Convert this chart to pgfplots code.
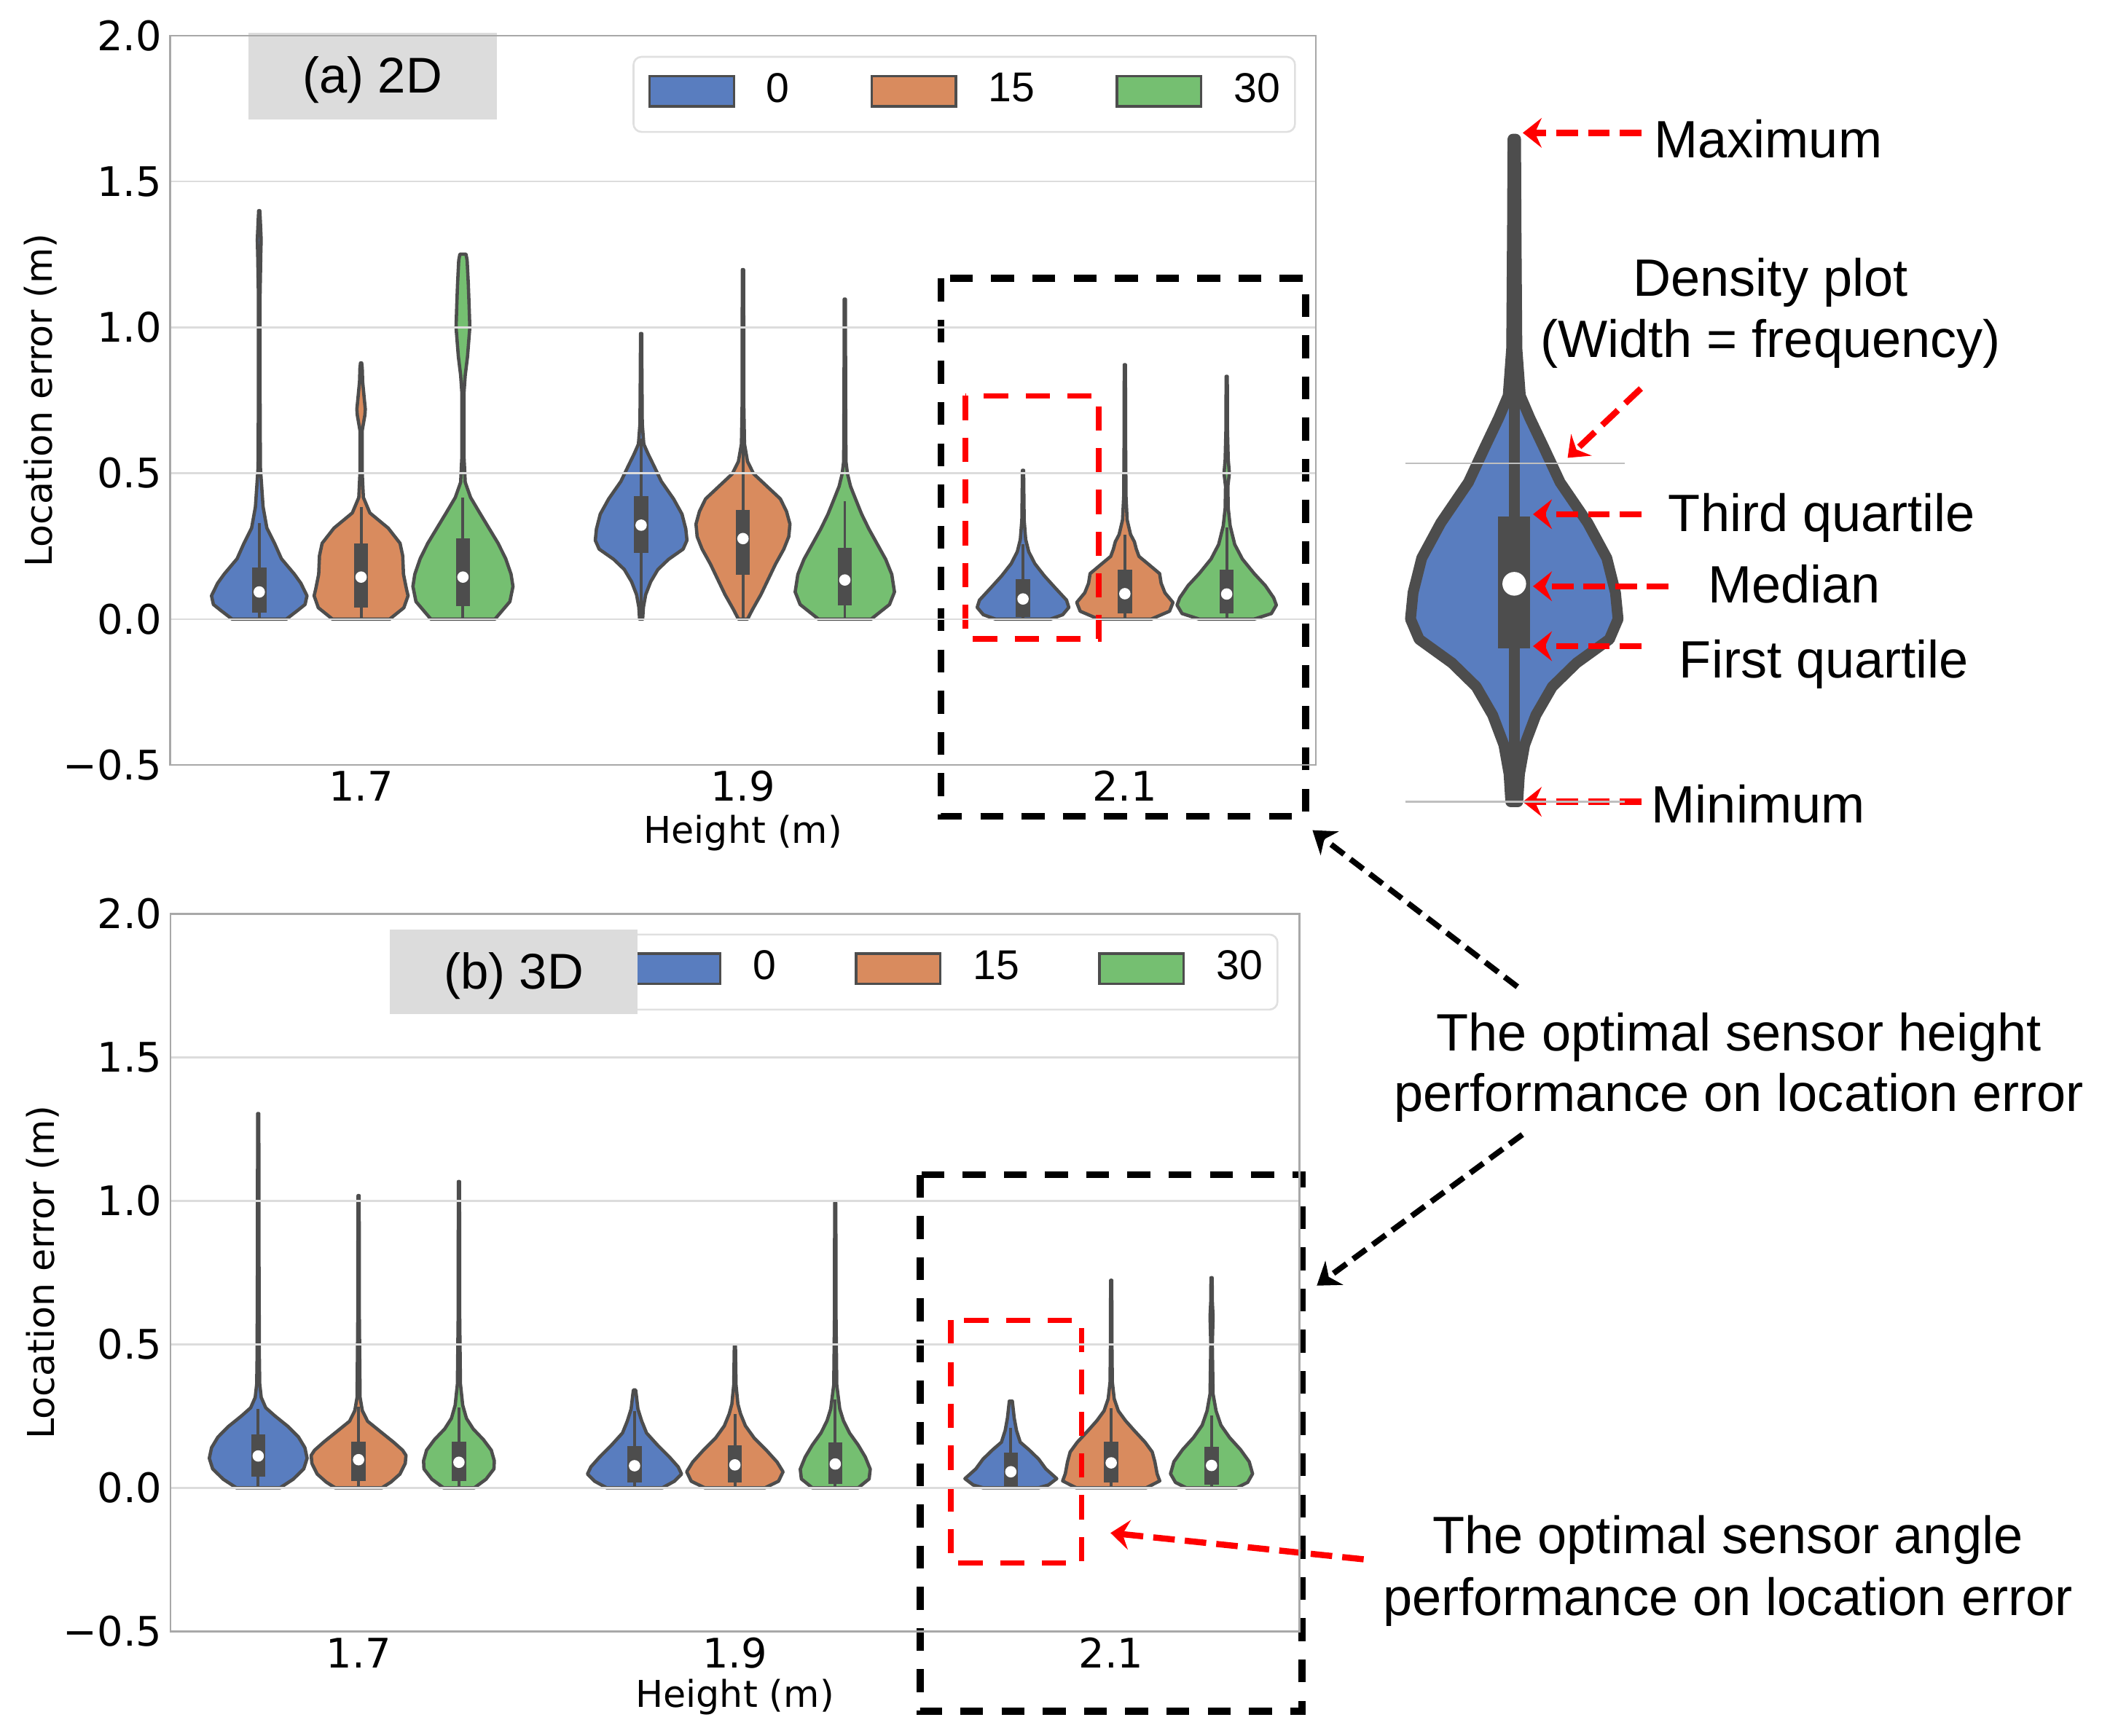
\documentclass[border=0pt]{standalone}
\usepackage{pgfplots}
\pgfplotsset{compat=1.18}
\usepackage{pgfplotstable}
\usepgfplotslibrary{fillbetween}
\usetikzlibrary{arrows.meta}
\usepackage{fontspec}
\setmainfont{Liberation Sans}
\newfontfamily\djv{DejaVu Sans}

\definecolor{vblue}{HTML}{597DBF}
\definecolor{vorange}{HTML}{D98B5E}
\definecolor{vgreen}{HTML}{75BF71}
\definecolor{vgray}{HTML}{4D4D4D}
\definecolor{framec}{HTML}{A8A8A8}
\definecolor{gridc}{HTML}{DCDCDC}
\definecolor{labbox}{HTML}{DCDCDC}
\definecolor{legc}{HTML}{E0E0E0}

\newcommand{\tickfont}{\djv\fontsize{8.6}{10}\selectfont}
\newcommand{\labfont}{\djv\fontsize{7.8}{9}\selectfont}
\newcommand{\legfont}{\fontsize{8.8}{10}\selectfont}
\newcommand{\boxfont}{\fontsize{10.6}{12}\selectfont}
\newcommand{\annfont}{\fontsize{11.1}{13}\selectfont}

% violin outline from a (y, half width) table: #1 table, #2 centre, #3 colour, #4 id
\newcommand{\violin}[4]{%
  \addplot[draw=none, forget plot, name path=R#4] table[x expr=#2+\thisrow{w}, y=y] {#1};
  \addplot[draw=none, forget plot, name path=L#4] table[x expr=#2-\thisrow{w}, y=y] {#1};
  \addplot[fill=#3, draw=vgray, line width=0.7pt, line join=round, forget plot] fill between[of=R#4 and L#4, reverse=true];
}
% inner box: #1 centre, #2 q1, #3 q3, #4 median, #5 whisker low, #6 whisker high
\newcommand{\vinner}[6]{%
  \addplot[vgray, line width=0.6pt, forget plot] coordinates {(#1,#5) (#1,#6)};
  \addplot[vgray, line width=3pt, forget plot] coordinates {(#1,#2) (#1,#3)};
  \addplot[only marks, mark=*, mark size=1pt, white, forget plot] coordinates {(#1,#4)};
}

\pgfplotsset{
  violinaxis/.style={
    scale only axis,
    xmin=-0.5, xmax=2.5, ymin=-0.5, ymax=2.0,
    xtick={0,1,2}, xticklabels={1.7,1.9,2.1},
    ytick={-0.5,0,0.5,1,1.5,2}, yticklabels={−0.5,0.0,0.5,1.0,1.5,2.0},
    major tick length=0pt,
    ymajorgrids, grid style={draw=gridc, line width=0.4pt},
    axis line style={draw=framec, line width=0.4pt},
    xticklabel style={font=\tickfont, anchor=base, yshift=-0.27cm, inner sep=0pt},
    yticklabel style={font=\tickfont, anchor=east, inner sep=0pt, xshift=-0.055cm},
    xlabel={Height (m)}, ylabel={Location error (m)},
    legend columns=3, legend cell align=left,
    legend image code/.code={%
      \draw[##1, draw=vgray, line width=0.5pt, sharp corners] (0cm,-0.113cm) rectangle (0.626cm,0.113cm);
      \path (0.861cm,0cm) (0cm,-0.176cm);},
    legend style={anchor=north east, draw=legc, line width=0.4pt, rounded corners=0.06cm,
      fill=white, inner xsep=0.11cm, inner ysep=0.12cm, font=\legfont,
      nodes={inner sep=0pt}, column sep=0pt,
      /tikz/every even column/.append style={column sep=0.6cm}},
  }
}

\begin{document}

% ---- (a) 2D ----
\pgfplotstableread{
y w
0 0.071
0.028 0.099
0.05 0.120
0.08 0.125
0.123 0.109
0.154 0.092
0.207 0.058
0.26 0.040
0.312 0.020
0.385 0.010
0.52 0.003
0.8 0.002
1.1 0.002
1.25 0.004
1.3 0.005
1.36 0.003
1.40 0.0015
}\tAa
\pgfplotstableread{
y w
0 0.075
0.039 0.112
0.08 0.123
0.102 0.119
0.154 0.111
0.217 0.109
0.26 0.102
0.312 0.071
0.364 0.023
0.417 0.006
0.5 0.003
0.647 0.003
0.70 0.010
0.72 0.011
0.76 0.008
0.815 0.004
0.86 0.003
0.878 0.0015
}\tAb
\pgfplotstableread{
y w
0 0.084
0.06 0.123
0.112 0.131
0.154 0.126
0.207 0.112
0.26 0.092
0.312 0.068
0.364 0.044
0.417 0.020
0.469 0.006
0.55 0.003
0.70 0.003
0.78 0.003
0.836 0.006
0.9 0.012
1.0 0.018
1.08 0.016
1.151 0.014
1.23 0.011
1.251 0.008
}\tAc
\pgfplotstableread{
y w
0 0.004
0.041 0.006
0.084 0.012
0.128 0.025
0.17 0.044
0.205 0.072
0.24 0.110
0.27 0.120
0.309 0.117
0.36 0.107
0.412 0.085
0.472 0.053
0.524 0.034
0.567 0.018
0.60 0.007
0.67 0.003
0.85 0.002
0.979 0.0015
}\tAd
\pgfplotstableread{
y w
0 0.012
0.033 0.025
0.084 0.047
0.136 0.066
0.188 0.085
0.24 0.107
0.283 0.120
0.326 0.123
0.369 0.114
0.412 0.098
0.455 0.063
0.498 0.028
0.54 0.012
0.60 0.004
0.75 0.002
1.0 0.002
1.198 0.0015
}\tAe
\pgfplotstableread{
y w
0 0.069
0.05 0.117
0.093 0.130
0.153 0.123
0.205 0.107
0.257 0.085
0.309 0.063
0.36 0.044
0.412 0.028
0.455 0.015
0.498 0.007
0.54 0.003
0.8 0.002
1.097 0.0015
}\tAf
\pgfplotstableread{
y w
0 0.072
0.015 0.104
0.04 0.120
0.065 0.114
0.106 0.085
0.148 0.056
0.19 0.031
0.231 0.015
0.273 0.007
0.34 0.003
0.45 0.002
0.51 0.0015
}\tAg
\pgfplotstableread{
y w
0 0.069
0.027 0.117
0.057 0.126
0.09 0.105
0.123 0.095
0.156 0.091
0.19 0.060
0.215 0.037
0.24 0.030
0.265 0.025
0.29 0.015
0.34 0.006
0.42 0.003
0.6 0.002
0.872 0.0015
}\tAh
\pgfplotstableread{
y w
0 0.072
0.019 0.117
0.048 0.130
0.073 0.123
0.115 0.101
0.156 0.072
0.206 0.041
0.256 0.021
0.32 0.009
0.38 0.004
0.455 0.003
0.50 0.007
0.547 0.004
0.65 0.002
0.832 0.0015
}\tAi

% ---- (b) 3D ----
\pgfplotstableread{
y w
0 0.058
0.03 0.093
0.066 0.121
0.103 0.130
0.14 0.124
0.177 0.107
0.214 0.079
0.251 0.044
0.279 0.020
0.315 0.008
0.362 0.004
0.454 0.003
0.8 0.002
1.304 0.0015
}\tBa
\pgfplotstableread{
y w
0 0.062
0.02 0.086
0.048 0.110
0.085 0.124
0.113 0.126
0.131 0.117
0.159 0.093
0.196 0.058
0.232 0.024
0.269 0.010
0.315 0.004
0.6 0.002
1.018 0.0015
}\tBb
\pgfplotstableread{
y w
0 0.041
0.03 0.072
0.066 0.093
0.094 0.094
0.131 0.086
0.168 0.065
0.205 0.038
0.242 0.020
0.288 0.010
0.362 0.004
0.6 0.002
1.067 0.0015
}\tBc
\pgfplotstableread{
y w
0 0.074
0.023 0.106
0.048 0.125
0.073 0.116
0.107 0.093
0.149 0.061
0.191 0.032
0.233 0.019
0.275 0.009
0.32 0.005
0.341 0.003
}\tBd
\pgfplotstableread{
y w
0 0.080
0.023 0.116
0.056 0.128
0.09 0.112
0.132 0.083
0.174 0.051
0.216 0.028
0.258 0.015
0.292 0.008
0.359 0.003
0.494 0.0015
}\tBe
\pgfplotstableread{
y w
0 0.061
0.031 0.090
0.065 0.093
0.107 0.080
0.149 0.061
0.191 0.038
0.233 0.022
0.275 0.012
0.359 0.004
0.6 0.002
0.993 0.0015
}\tBf
\pgfplotstableread{
y w
0 0.074
0.01 0.100
0.032 0.122
0.066 0.093
0.1 0.074
0.133 0.048
0.159 0.025
0.2 0.015
0.243 0.009
0.302 0.004
}\tBg
\pgfplotstableread{
y w
0 0.093
0.024 0.129
0.049 0.122
0.091 0.116
0.125 0.109
0.159 0.090
0.2 0.061
0.234 0.038
0.268 0.019
0.31 0.008
0.369 0.003
0.5 0.002
0.723 0.0015
}\tBh
\pgfplotstableread{
y w
0 0.067
0.019 0.096
0.049 0.109
0.091 0.100
0.133 0.077
0.175 0.048
0.218 0.025
0.268 0.012
0.327 0.004
0.5 0.002
0.597 0.004
0.65 0.002
0.732 0.0015
}\tBi

\begin{tikzpicture}

% (a) 2D
\begin{axis}[violinaxis,
  at={(1.263cm,7.209cm)}, anchor=south west, width=8.504cm, height=5.414cm,
  xlabel style={font=\labfont, at={(axis description cs:0.5,-0.1069)}, anchor=base},
  ylabel style={font=\labfont, at={(axis description cs:-0.1031,0.5)}, anchor=base},
  legend style={at={(axis description cs:0.9827,0.9723)}},
]
\addlegendimage{fill=vblue}\addlegendentry{0}
\addlegendimage{fill=vorange}\addlegendentry{15}
\addlegendimage{fill=vgreen}\addlegendentry{30}
\violin{\tAa}{-0.2667}{vblue}{aa}
\violin{\tAb}{0}{vorange}{ab}
\violin{\tAc}{0.2667}{vgreen}{ac}
\violin{\tAd}{0.7333}{vblue}{ad}
\violin{\tAe}{1}{vorange}{ae}
\violin{\tAf}{1.2667}{vgreen}{af}
\violin{\tAg}{1.7333}{vblue}{ag}
\violin{\tAh}{2}{vorange}{ah}
\violin{\tAi}{2.2667}{vgreen}{ai}
\vinner{-0.2667}{0.023}{0.177}{0.093}{0}{0.33}
\vinner{0}{0.039}{0.26}{0.144}{0}{0.385}
\vinner{0.2667}{0.044}{0.278}{0.144}{0}{0.417}
\vinner{0.7333}{0.227}{0.421}{0.322}{0}{0.62}
\vinner{1}{0.153}{0.373}{0.276}{0}{0.6}
\vinner{1.2667}{0.046}{0.244}{0.134}{0}{0.403}
\vinner{1.7333}{0.007}{0.136}{0.069}{0}{0.256}
\vinner{2}{0.019}{0.169}{0.087}{0}{0.29}
\vinner{2.2667}{0.019}{0.169}{0.086}{0}{0.314}
\end{axis}

% (b) 3D
\begin{axis}[violinaxis,
  at={(1.265cm,0.777cm)}, anchor=south west, width=8.38cm, height=5.327cm,
  xlabel style={font=\labfont, at={(axis description cs:0.5,-0.1053)}, anchor=base},
  ylabel style={font=\labfont, at={(axis description cs:-0.1032,0.5)}, anchor=base},
  legend style={at={(axis description cs:0.9815,0.9724)},
    /tikz/every even column/.append style={column sep=0.585cm}},
]
\addlegendimage{fill=vblue}\addlegendentry{0}
\addlegendimage{fill=vorange}\addlegendentry{15}
\addlegendimage{fill=vgreen}\addlegendentry{30}
\violin{\tBa}{-0.2667}{vblue}{ba}
\violin{\tBb}{0}{vorange}{bb}
\violin{\tBc}{0.2667}{vgreen}{bc}
\violin{\tBd}{0.7333}{vblue}{bd}
\violin{\tBe}{1}{vorange}{be}
\violin{\tBf}{1.2667}{vgreen}{bf}
\violin{\tBg}{1.7333}{vblue}{bg}
\violin{\tBh}{2}{vorange}{bh}
\violin{\tBi}{2.2667}{vgreen}{bi}
\vinner{-0.2667}{0.039}{0.185}{0.111}{0}{0.274}
\vinner{0}{0.024}{0.161}{0.098}{0}{0.283}
\vinner{0.2667}{0.024}{0.161}{0.089}{0}{0.279}
\vinner{0.7333}{0.019}{0.145}{0.077}{0}{0.267}
\vinner{1}{0.019}{0.149}{0.080}{0}{0.258}
\vinner{1.2667}{0.014}{0.159}{0.083}{0}{0.309}
\vinner{1.7333}{0.003}{0.122}{0.056}{0}{0.209}
\vinner{2}{0.019}{0.160}{0.087}{0}{0.277}
\vinner{2.2667}{0.011}{0.143}{0.078}{0}{0.251}
\end{axis}

% enlarged example violin (2D, 1.9 m, 0 deg)
\begin{axis}[
  at={(10.43cm,6.936cm)}, anchor=south west, width=1.63cm, height=5.024cm,
  scale only axis, xmin=-0.1262, xmax=0.1277, ymin=0, ymax=1, clip=false,
  axis line style={draw=none}, xtick=\empty, ytick={0,0.5}, yticklabels={},
  major tick length=0pt, ymajorgrids, grid style={draw=gray!50, line width=0.4pt},
  axis on top,
]
\addplot[draw=none, forget plot, name path=Rc] table[x expr=\thisrow{w}, y=y] {\tAd};
\addplot[draw=none, forget plot, name path=Lc] table[x expr=-\thisrow{w}, y=y] {\tAd};
\addplot[fill=vblue, draw=vgray, line width=2.3pt, line join=round] fill between[of=Rc and Lc, reverse=true];
\addplot[vgray, line width=2.3pt] coordinates {(0,0) (0,0.62)};
\addplot[vgray, line width=6.8pt] coordinates {(0,0.227) (0,0.421)};
\addplot[only marks, mark=*, mark size=2.3pt, white] coordinates {(0,0.322)};
\end{axis}

% annotations, in units of the reference (1 unit = 0.01 cm, y downwards)
\begin{scope}[shift={(0,12.888cm)}, x=0.01cm, y=-0.01cm]
\tikzset{
  redarr/.style={red, line width=1.3pt, dash pattern=on 0.16cm off 0.075cm,
    -{Stealth[length=0.14cm, width=0.22cm, inset=0.05cm]}},
  blkarr/.style={black, line width=1.2pt, dash pattern=on 0.12cm off 0.06cm,
    -{Stealth[length=0.16cm, width=0.22cm, inset=0.05cm]}},
  ann/.style={inner sep=0pt, font=\annfont},
}
\fill[labbox] (184.5,24.2) rectangle (369,88.5);
\node[anchor=base, inner sep=0pt, font=\boxfont] at (276.6,68.9) {(a) 2D};
\fill[labbox] (289.7,690.6) rectangle (473.6,753.5);
\node[anchor=base, inner sep=0pt, font=\boxfont] at (381.6,734.7) {(b) 3D};

\draw[black, line width=1.5pt, dash pattern=on 0.17cm off 0.136cm] (698.9,206.9) rectangle (969.6,606.3);
\draw[black, line width=1.5pt, dash pattern=on 0.17cm off 0.136cm] (683.3,872.6) rectangle (967.2,1271.3);
\draw[red, line width=1.15pt, dash pattern=on 0.18cm off 0.13cm] (717,294) rectangle (816,474.5);
\draw[red, line width=1.15pt, dash pattern=on 0.18cm off 0.13cm] (706.1,980.7) rectangle (803.4,1161.1);

\draw[redarr] (1219,98.7) -- (1131,98.7);
\draw[redarr] (1218.7,288.6) -- (1164.3,340.1);
\draw[redarr] (1219,382) -- (1138.6,382);
\draw[redarr] (1239.2,435.5) -- (1138.6,435.5);
\draw[redarr] (1219,480) -- (1138.6,480);
\draw[redarr] (1219,595.6) -- (1131,595.6);

\node[ann, anchor=base west] at (1228,117) {Maximum};
\node[ann, anchor=base] at (1315,220) {Density plot};
\node[ann, anchor=base] at (1315,265.6) {(Width = frequency)};
\node[ann, anchor=base west] at (1238.5,394.7) {Third quartile};
\node[ann, anchor=base west] at (1268,448) {Median};
\node[ann, anchor=base west] at (1246.6,503.4) {First quartile};
\node[ann, anchor=base west] at (1226,611) {Minimum};

\draw[blkarr] (1127,733) -- (974.8,616.7);
\draw[blkarr] (1130.7,842.8) -- (978,955);
\draw[redarr] (1012.8,1158.3) -- (824.8,1138.7);

\node[ann, anchor=base] at (1291.6,780.4) {The optimal sensor height};
\node[ann, anchor=base] at (1291.6,825.7) {performance on location error};
\node[ann, anchor=base] at (1283.3,1154.2) {The optimal sensor angle};
\node[ann, anchor=base] at (1283.3,1199.9) {performance on location error};
\end{scope}

% the page is exactly as large as the reference
\pgfresetboundingbox
\path (0,0) rectangle (15.603cm,12.888cm);
\end{tikzpicture}
\end{document}
